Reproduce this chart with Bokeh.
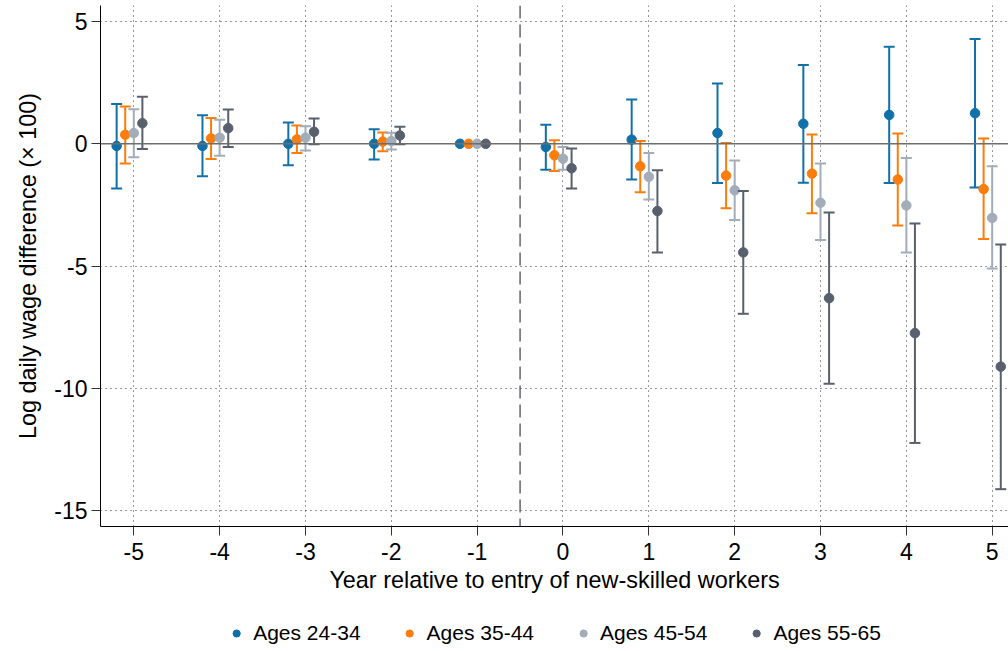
import math
from bokeh.plotting import figure
from bokeh.layouts import column
from bokeh.models import (Range1d, FixedTicker, Legend, LegendItem, Span,
                          ColumnDataSource)
from bokeh.transform import dodge
from bokeh.embed import file_html
from bokeh.resources import INLINE

NaN = float("nan")

years = [-5, -4, -3, -2, -1, 0, 1, 2, 3, 4, 5]
series_labels = ["Ages 24-34", "Ages 35-44", "Ages 45-54", "Ages 55-65"]
colors = ["#1170AA", "#FC7D0B", "#A3ACB9", "#57606C"]
offsets = [-0.2, -0.1, 0.0, 0.1]

est_24_34 = [-0.09, -0.09, 0.00, 0.00, 0.0, -0.13, 0.17, 0.44, 0.82, 1.18, 1.25]
hi_24_34 = [1.63, 1.17, 0.87, 0.59, NaN, 0.78, 1.81, 2.47, 3.22, 3.97, 4.28]
lo_24_34 = [-1.83, -1.33, -0.88, -0.64, NaN, -1.06, -1.46, -1.60, -1.59, -1.60, -1.79]

est_35_44 = [0.37, 0.22, 0.18, 0.09, 0.0, -0.47, -0.92, -1.30, -1.22, -1.46, -1.85]
hi_35_44 = [1.52, 1.05, 0.75, 0.46, NaN, 0.14, 0.11, 0.03, 0.38, 0.42, 0.22]
lo_35_44 = [-0.81, -0.62, -0.38, -0.30, NaN, -1.11, -1.98, -2.63, -2.84, -3.34, -3.89]

est_45_54 = [0.44, 0.25, 0.25, 0.11, 0.0, -0.61, -1.35, -1.90, -2.41, -2.52, -3.03]
hi_45_54 = [1.41, 0.98, 0.72, 0.45, NaN, -0.13, -0.38, -0.68, -0.81, -0.58, -0.92]
lo_45_54 = [-0.55, -0.49, -0.27, -0.23, NaN, -1.06, -2.28, -3.12, -3.93, -4.44, -5.10]

est_55_65 = [0.84, 0.64, 0.49, 0.34, 0.0, -1.00, -2.75, -4.44, -6.31, -7.74, -9.11]
hi_55_65 = [1.92, 1.40, 1.03, 0.70, NaN, -0.19, -1.08, -1.93, -2.81, -3.26, -4.12]
lo_55_65 = [-0.21, -0.13, -0.02, -0.02, NaN, -1.83, -4.44, -6.95, -9.81, -12.23, -14.12]

x_ticks = [-5, -4, -3, -2, -1, 0, 1, 2, 3, 4, 5]
y_ticks = [-15, -10, -5, 0, 5]

ests = [est_24_34, est_35_44, est_45_54, est_55_65]
his = [hi_24_34, hi_35_44, hi_45_54, hi_55_65]
los = [lo_24_34, lo_35_44, lo_45_54, lo_55_65]

FONT = "Liberation Sans"

p = figure(width=1008, height=614,
           output_backend="svg", toolbar_location=None,
           x_range=Range1d(-5.388, 5.19), y_range=Range1d(-15.646, 5.654),
           min_border_left=100, min_border_right=0, min_border_top=5,
           min_border_bottom=88)
p.outline_line_color = None
p.background_fill_color = "white"
p.border_fill_color = "white"

# grids
for g in (p.xgrid, p.ygrid):
    g.grid_line_color = "#333333"
    g.grid_line_dash = "1 4"
    g.grid_line_width = 1
p.xgrid.ticker = FixedTicker(ticks=x_ticks)
p.ygrid.ticker = FixedTicker(ticks=y_ticks)

# axes
p.xaxis.ticker = FixedTicker(ticks=x_ticks)
p.yaxis.ticker = FixedTicker(ticks=y_ticks)
p.xaxis.major_label_overrides = {t: str(t) for t in x_ticks}
p.yaxis.major_label_overrides = {t: str(t) for t in y_ticks}
for ax in (p.xaxis[0], p.yaxis[0]):
    ax.axis_line_color = "black"
    ax.axis_line_width = 1
    ax.major_tick_line_color = "#333333"
    ax.major_tick_out = 9
    ax.major_tick_in = 0
    ax.minor_tick_line_color = None
    ax.major_label_text_font = FONT
    ax.major_label_text_font_size = "23px"
    ax.major_label_text_color = "black"
    ax.axis_label_text_font = FONT
    ax.axis_label_text_font_size = "23.4px"
    ax.axis_label_text_font_style = "normal"
    ax.axis_label_text_color = "black"
p.xaxis.axis_label = "Year relative to entry of new-skilled workers"
p.yaxis.axis_label = "Log daily wage difference (× 100)"
p.xaxis.major_label_standoff = 7
p.yaxis.major_label_standoff = 4
p.xaxis.axis_label_standoff = 4
p.yaxis.axis_label_standoff = 10

# reference lines
p.add_layout(Span(location=0, dimension="width", line_color="#6e6e6e",
                  line_width=1.6))
p.add_layout(Span(location=-0.5, dimension="height", line_color="#62666e",
                  line_width=1.5, line_dash="13 6"))

# legend strip below the chart
pl = figure(width=1008, height=37, output_backend="svg", toolbar_location=None,
            x_range=Range1d(100, 101), y_range=Range1d(100, 101),
            min_border_left=100, min_border_right=0, min_border_top=0,
            min_border_bottom=0)
pl.axis.visible = False
pl.grid.visible = False
pl.outline_line_color = None
pl.border_fill_color = "white"

legend_items = []
for lab, col, off, est, hi, lo in zip(series_labels, colors, offsets, ests, his, los):
    src = ColumnDataSource(dict(year=years, est=est, hi=hi, lo=lo))
    xd = dodge("year", off)
    p.segment(x0=xd, y0="lo", x1=xd, y1="hi", source=src,
              line_color=col, line_width=2)
    p.scatter(x=xd, y="hi", source=src, marker="dash", size=11,
              line_color=col, line_width=2)
    p.scatter(x=xd, y="lo", source=src, marker="dash", size=11,
              line_color=col, line_width=2)
    p.scatter(x=xd, y="est", source=src, marker="circle", size=9.5,
              fill_color=col, line_color=col, line_width=1)
    # legend proxy (same data, lies outside the strip's range)
    r = pl.scatter(x="year", y="est", source=src, marker="circle", size=7,
                   fill_color=col, line_color=col)
    legend_items.append(LegendItem(label=lab, renderers=[r]))

legend = Legend(items=legend_items, orientation="horizontal",
                location="center", border_line_color=None,
                background_fill_alpha=0,
                label_text_font=FONT, label_text_font_size="21px",
                label_text_color="black",
                glyph_height=18, glyph_width=18, label_standoff=8,
                spacing=40, margin=0, padding=2)
pl.add_layout(legend, "center")

layout = column(p, pl, spacing=0)
open("out.html", "w").write(file_html(layout, INLINE))
